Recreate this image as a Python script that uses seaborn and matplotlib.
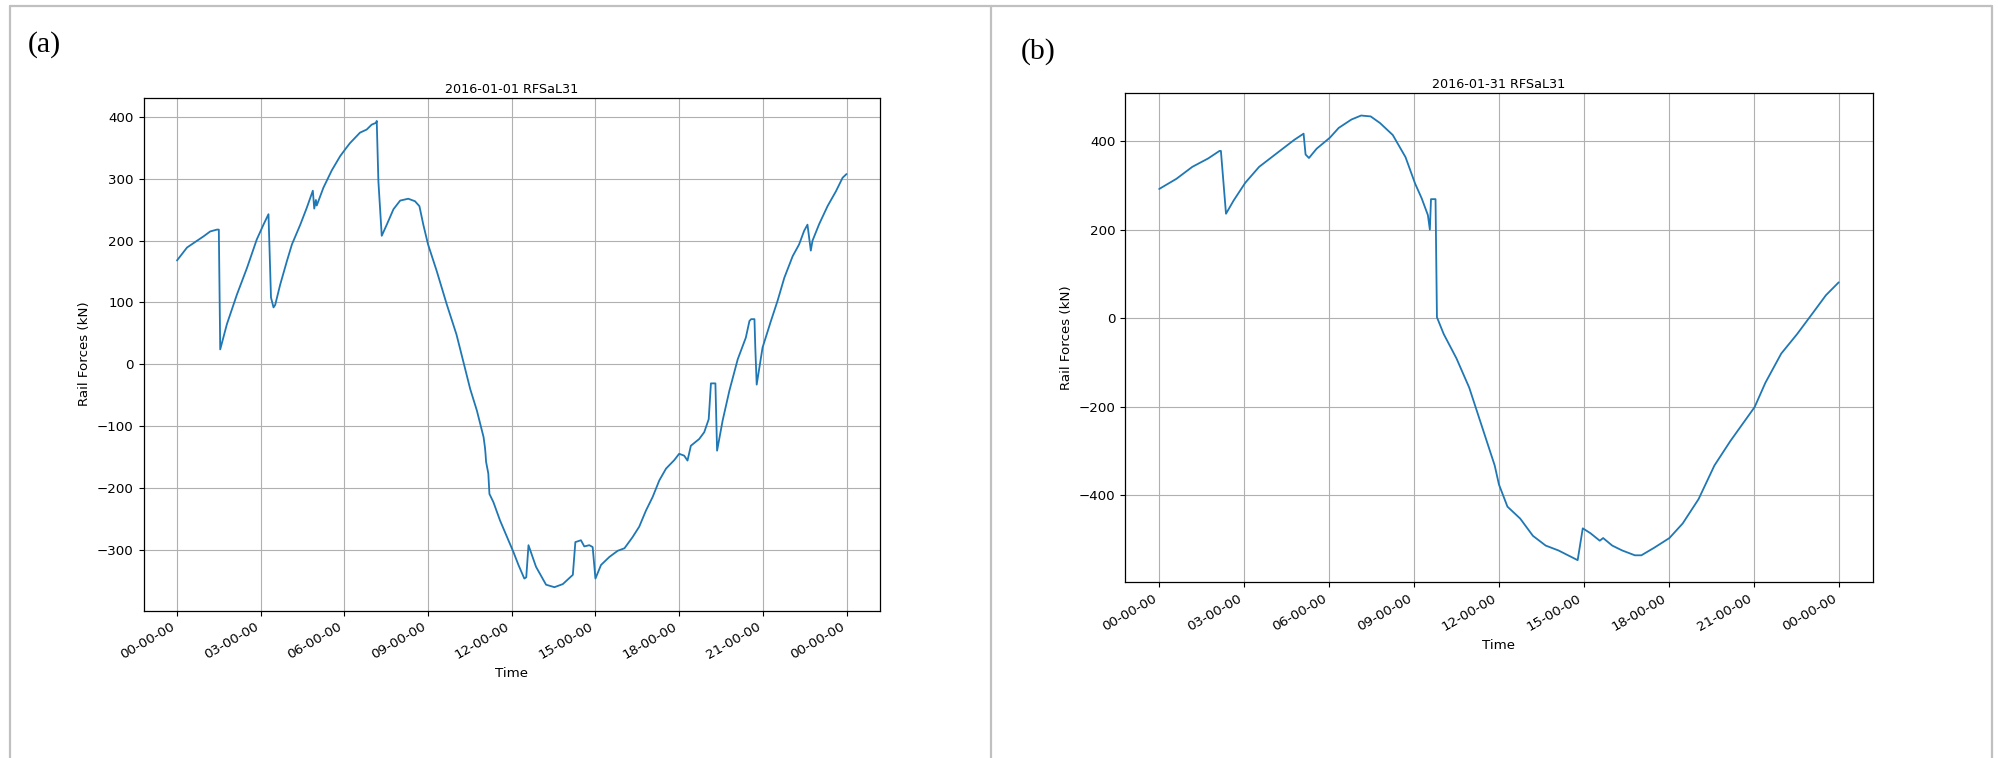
import numpy as np
import pandas as pd
import matplotlib
matplotlib.use("Agg")
import matplotlib.pyplot as plt
import matplotlib.dates as mdates
from matplotlib.lines import Line2D
import seaborn as sns

# ---- Rail force records (hours after midnight, force in kN) ----
day_a = "2016-01-01"
title_a = "2016-01-01 RFSaL31"
hours_a = [0.0, 0.36, 0.72, 0.95, 1.19, 1.43, 1.5, 1.55, 1.79, 2.15, 2.51, 2.86, 3.1, 3.28,
           3.37, 3.46, 3.52, 3.7, 3.94, 4.12, 4.42, 4.65, 4.87, 4.92, 4.98, 5.01, 5.25, 5.55,
           5.85, 6.03, 6.2, 6.56, 6.8, 6.98, 7.14, 7.16, 7.22, 7.34, 7.52, 7.76, 8.0, 8.29,
           8.53, 8.69, 8.83, 9.0, 9.31, 9.67, 10.02, 10.26, 10.51, 10.75, 10.99, 11.04, 11.06,
           11.08, 11.16, 11.2, 11.34, 11.58, 11.88, 12.06, 12.24, 12.45, 12.52, 12.6, 12.87,
           13.23, 13.53, 13.83, 14.19, 14.28, 14.48, 14.6, 14.78, 14.9, 15.0, 15.2, 15.5, 15.8,
           16.04, 16.33, 16.57, 16.81, 17.05, 17.29, 17.53, 17.83, 18.0, 18.18, 18.3, 18.42,
           18.72, 18.9, 19.06, 19.14, 19.3, 19.36, 19.56, 19.8, 20.1, 20.39, 20.52, 20.58,
           20.7, 20.73, 20.78, 20.99, 21.29, 21.53, 21.77, 22.07, 22.3, 22.48, 22.6, 22.72,
           22.78, 23.02, 23.32, 23.62, 23.86, 24.0]
force_a = [168, 189, 200, 207, 215, 218, 218, 24, 65, 113, 156, 202, 226, 243,
           108, 92, 96, 129, 167, 194, 226, 253, 281, 252, 266, 257, 286, 314,
           337, 348, 358, 375, 380, 388, 391, 394, 296, 208, 226, 251, 265, 268,
           264, 256, 226, 194, 151, 97, 48, 5, -40, -75, -118, -135, -145,
           -158, -177, -210, -223, -253, -285, -304, -325, -347, -345, -293, -328,
           -357, -361, -356, -341, -288, -285, -295, -293, -296, -347, -325, -312, -302,
           -298, -280, -263, -237, -215, -188, -169, -155, -145, -148, -156, -132,
           -121, -110, -89, -31, -31, -140, -91, -43, 8, 43, 70, 73,
           73, 27, -33, 27, 70, 103, 140, 175, 194, 216, 226, 184,
           200, 227, 256, 280, 302, 308]

day_b = "2016-01-31"
title_b = "2016-01-31 RFSaL31"
hours_b = [0.0, 0.61, 1.17, 1.73, 2.13, 2.18, 2.36, 2.63, 3.04, 3.53, 4.2, 4.77, 5.1, 5.17,
           5.29, 5.56, 6.03, 6.34, 6.79, 7.13, 7.47, 7.8, 8.25, 8.7, 9.04, 9.27, 9.49, 9.56,
           9.6, 9.76, 9.81, 10.05, 10.5, 10.95, 11.4, 11.85, 12.0, 12.3, 12.75, 13.2, 13.65,
           14.1, 14.44, 14.78, 14.96, 15.23, 15.56, 15.68, 16.0, 16.35, 16.8, 17.03, 17.48,
           18.02, 18.49, 19.05, 19.61, 20.17, 21.03, 21.41, 21.97, 22.53, 23.1, 23.55, 24.0]
force_b = [292, 315, 342, 361, 378, 378, 236, 266, 306, 342, 375, 403, 417, 370,
           362, 383, 408, 430, 449, 458, 456, 441, 414, 364, 304, 271, 233, 200,
           269, 269, 2, -36, -91, -157, -245, -333, -376, -426, -453, -492, -514,
           -525, -536, -547, -475, -486, -503, -497, -514, -525, -536, -536, -519,
           -497, -464, -409, -333, -278, -201, -146, -80, -36, 13, 52, 81]

panel_tags = ["(a)", "(b)"]
x_title = "Time"
y_title = "Rail Forces (kN)"


def to_frame(day, hours, force):
    t = pd.Timestamp(day) + pd.to_timedelta(np.asarray(hours, dtype=float), unit="h")
    return pd.DataFrame({"time": t, "force": force})


sns.set_theme(style="ticks", rc={
    "axes.grid": True,
    "grid.color": "#b0b0b0",
    "grid.linewidth": 0.8,
    "axes.edgecolor": "black",
    "axes.linewidth": 0.9,
    "xtick.color": "black",
    "ytick.color": "black",
    "text.color": "black",
    "axes.labelcolor": "black",
    "xtick.labelsize": 9.6,
    "ytick.labelsize": 9.6,
    "axes.labelsize": 9.6,
    "axes.titlesize": 9.2,
    "xtick.major.size": 3.5,
    "ytick.major.size": 3.5,
    "xtick.major.width": 0.8,
    "ytick.major.width": 0.8,
})
plt.rcParams["font.family"] = ["DejaVu Sans"]
plt.rcParams["axes.unicode_minus"] = True

W, H = 1998, 758
fig = plt.figure(figsize=(W / 100, H / 100), dpi=100)


def px_axes(left, top, right, bottom):
    return fig.add_axes([left / W, 1 - bottom / H, (right - left) / W, (bottom - top) / H])


ax_a = px_axes(143.5, 97.6, 880, 610.5)
ax_b = px_axes(1125.2, 93.3, 1872.7, 582.4)

panels = [
    (ax_a, to_frame(day_a, hours_a, force_a), title_a),
    (ax_b, to_frame(day_b, hours_b, force_b), title_b),
]

for ax, df, ttl in panels:
    sns.lineplot(data=df, x="time", y="force", ax=ax, color="#1f77b4", linewidth=1.3)
    ax.set_title(ttl, pad=3.5)
    ax.set_xlabel(x_title)
    ax.set_ylabel(y_title)
    ax.xaxis.set_major_locator(mdates.HourLocator(byhour=range(0, 24, 3)))
    ax.xaxis.set_major_formatter(mdates.DateFormatter("%H-%M-%S"))
    ax.margins(x=0.05, y=0.05)
    for lab in ax.get_xticklabels():
        lab.set_rotation(30)
        lab.set_ha("right")
    ax.grid(True, color="#b0b0b0", linewidth=0.8)
    for s in ax.spines.values():
        s.set_visible(True)

ax_a.set_yticks([-300, -200, -100, 0, 100, 200, 300, 400])
ax_b.set_yticks([-400, -200, 0, 200, 400])

# Frame around the two panels
frame_kw = dict(color="#c0c0c0", linewidth=1.6, transform=fig.transFigure)
for xs, ys in [((10, 1992), (6, 6)), ((10, 10), (6, 758)),
               ((991, 991), (6, 758)), ((1992, 1992), (6, 758))]:
    fig.add_artist(Line2D([x / W for x in xs], [1 - y / H for y in ys], **frame_kw))

fig.text(28 / W, 1 - 45 / H, panel_tags[0], family="Liberation Serif", fontsize=21.5,
         va="center", ha="left")
fig.text(1021 / W, 1 - 52 / H, panel_tags[1], family="Liberation Serif", fontsize=21.5,
         va="center", ha="left")

fig.savefig("out.png", dpi=100, facecolor="white")
